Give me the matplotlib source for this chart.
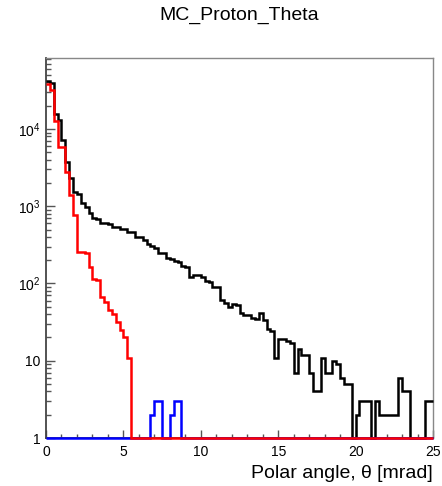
import numpy as np
import matplotlib
matplotlib.use("Agg")
import matplotlib.pyplot as plt
from matplotlib.ticker import FixedLocator, LogLocator, MultipleLocator, FuncFormatter, NullFormatter

plt.rcParams['font.family'] = ['Liberation Sans', 'DejaVu Sans']
plt.rcParams['mathtext.default'] = 'regular'

# histogram binning: 100 bins over 0-25 mrad
theta_lo = 0.0
theta_hi = 25.0
n_bins = 100

# black histogram (all protons)
black_counts = [
    42000, 39000, 15500, 13000, 7200, 3750, 2350, 1550, 1450, 1100,
    980, 810, 700, 690, 610, 600, 590, 545, 540, 515,
    510, 470, 465, 400, 395, 365, 320, 305, 285, 251,
    245, 211, 205, 195, 190, 168, 165, 122, 129, 127,
    120, 108, 106, 91, 90, 61, 56, 50, 54, 52,
    42, 39, 39, 36, 35, 41, 34, 26, 24, 11,
    19, 19, 18, 17, 7, 14, 12, 12, 7, 4,
    4, 11, 7, 7, 10, 9, 6, 5, 5, 0,
    2, 3, 3, 3, 0, 3, 2, 2, 2, 2,
    2, 6, 4, 4, 0, 0, 0, 0, 3, 3,
]

# red histogram
red_counts = [
    38000, 32000, 12700, 5900, 5800, 2800, 1400, 770, 255, 255,
    250, 164, 113, 110, 67, 58, 45, 40, 32, 25,
    20, 11, 0, 0, 0, 0, 0, 0, 0, 0,
    0, 0, 0, 0, 0, 0, 0, 0, 0, 0,
    0, 0, 0, 0, 0, 0, 0, 0, 0, 0,
    0, 0, 0, 0, 0, 0, 0, 0, 0, 0,
    0, 0, 0, 0, 0, 0, 0, 0, 0, 0,
    0, 0, 0, 0, 0, 0, 0, 0, 0, 0,
    0, 0, 0, 0, 0, 0, 0, 0, 0, 0,
    0, 0, 0, 0, 0, 0, 0, 0, 0, 0,
]

# blue histogram
blue_counts = [
    0, 0, 0, 0, 0, 0, 0, 0, 0, 0,
    0, 0, 0, 0, 0, 0, 0, 0, 0, 0,
    0, 0, 0, 0, 0, 0, 0, 2, 3, 3,
    0, 0, 2, 3, 3, 0, 0, 0, 0, 0,
    0, 0, 0, 0, 0, 0, 0, 0, 0, 0,
    0, 0, 0, 0, 0, 0, 0, 0, 0, 0,
    0, 0, 0, 0, 0, 0, 0, 0, 0, 0,
    0, 0, 0, 0, 0, 0, 0, 0, 0, 0,
    0, 0, 0, 0, 0, 0, 0, 0, 0, 0,
    0, 0, 0, 0, 0, 0, 0, 0, 0, 0,
]

y_min = 1
y_max = 8.3e4

edges = np.linspace(theta_lo, theta_hi, n_bins + 1)

W, H = 442, 486
fig = plt.figure(figsize=(W / 100, H / 100), dpi=100)
ax = fig.add_axes([46 / W, 1 - 438 / H, (433 - 46) / W, (438 - 58) / H])
ax.set_yscale('log')

# empty bins sit on the axis floor, like ROOT draws them on a log pad
z = 3
for counts, col in [(black_counts, '#000000'), (blue_counts, '#0000ff'), (red_counts, '#ff0000')]:
    vals = np.clip(np.array(counts, dtype=float), y_min, None)
    ax.stairs(vals, edges, baseline=None, color=col, lw=1.8, clip_on=False, zorder=z)
    z += 1

ax.set_xlim(theta_lo, theta_hi)
ax.set_ylim(y_min, y_max)

ax.xaxis.set_major_locator(MultipleLocator(5))
ax.xaxis.set_minor_locator(MultipleLocator(1))
ax.yaxis.set_major_locator(FixedLocator([1, 10, 100, 1000, 10000]))
ax.yaxis.set_minor_locator(LogLocator(base=10, subs=np.arange(2, 10)))
ax.yaxis.set_minor_formatter(NullFormatter())


def ylab(v, pos):
    if v == 1:
        return '1'
    if v == 10:
        return '10'
    return '$10^{%d}$' % int(round(np.log10(v)))


ax.yaxis.set_major_formatter(FuncFormatter(ylab))

ax.tick_params(which='both', direction='in', top=False, right=False,
               color='#555555', width=1.0, labelsize=10, labelcolor='black')
ax.tick_params(axis='x', which='major', length=6, pad=5)
ax.tick_params(axis='x', which='minor', length=3.2)
ax.tick_params(axis='y', which='major', length=6.5, pad=4)
ax.tick_params(axis='y', which='minor', length=3.5)

for side in ['left', 'bottom']:
    ax.spines[side].set_color('#444444')
    ax.spines[side].set_linewidth(1.3)
for side in ['top', 'right']:
    ax.spines[side].set_color('#888888')
    ax.spines[side].set_linewidth(1.0)

fig.text(239 / W, 1 - 15 / H, 'MC_Proton_Theta', ha='center', va='center', fontsize=14)
fig.text(433 / W, 1 - 473 / H, 'Polar angle, θ [mrad]', ha='right', va='center', fontsize=14)

fig.savefig('out.png', dpi=100)
